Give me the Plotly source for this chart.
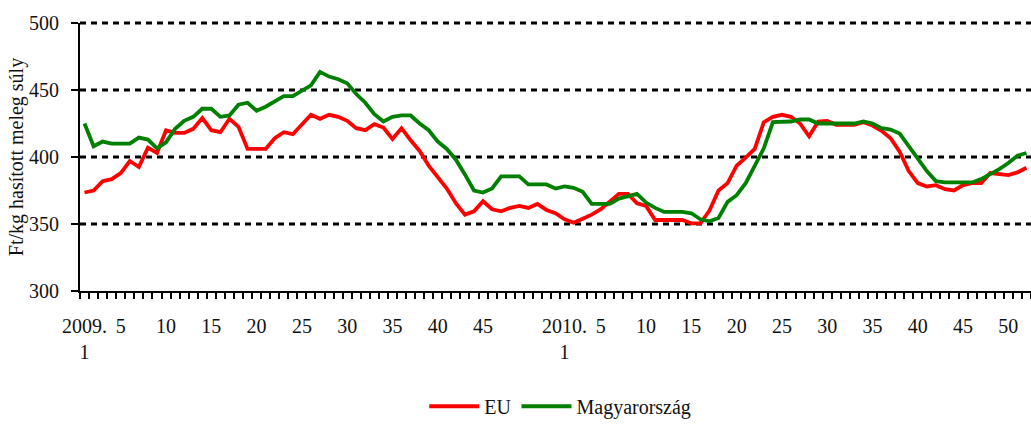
import plotly.graph_objects as go

# Weekly categories: 2009 weeks 1-53, 2010 weeks 1-52
weeks_2009 = list(range(1, 54))
weeks_2010 = list(range(1, 53))
categories = [f"2009.{w}" for w in weeks_2009] + [f"2010.{w}" for w in weeks_2010]

eu = [373.5, 375, 382, 383.5, 388, 397, 392.5, 407, 403, 420,
      418, 418, 421, 429, 420, 418.5, 428.5, 422.5, 406, 406,
      406, 414, 418.5, 417, 424.5, 431.5, 428.5, 431.5, 430, 427,
      421.5, 420, 424.5, 422, 413.5, 421.5, 412.5, 404.5, 393.5, 385,
      376.5, 365.5, 357, 359.5, 367, 361, 359.5, 362, 363.5, 362,
      365, 360.5, 358, 353.5, 351, 354, 357, 361, 367, 372.5,
      372.5, 365.5, 363.5, 353, 353, 353, 353, 350.5, 350.5, 360,
      375, 380.5, 393.5, 399.5, 406, 426, 430, 431.5, 430, 425,
      415.5, 426.5, 427, 424, 424, 424, 426, 423.5, 419.5, 414,
      404, 389.5, 380.5, 378, 379, 376, 375, 379, 380.5, 380.5,
      388, 387, 386.5, 388.5, 392]

hu = [425, 408, 411.5, 410, 410, 410, 414.5, 413, 406.5, 411,
      421, 427, 430, 436, 436, 430, 431, 439, 440.5, 434.5,
      437.5, 441.5, 445.5, 445.5, 449.5, 453.5, 463.5, 460, 458, 455,
      447, 440.5, 432, 426.5, 430, 431, 431, 425, 420, 411.5,
      406, 398, 387, 375, 373.5, 376.5, 385.5, 385.5, 385.5, 379.5,
      379.5, 379.5, 376.5, 378, 377, 374, 365, 365, 365, 369,
      371, 372.5, 366, 362, 359, 359, 359, 358, 353.5, 352,
      354.5, 366.5, 371.5, 380.5, 393, 406.5, 426, 426.5, 426.5, 428,
      428, 425, 425, 425, 425, 425, 426.5, 425, 421.5, 420.5,
      417.5, 408, 398, 389.5, 382, 381, 381, 381, 381, 383.5,
      387, 391, 395.5, 401, 403]

# tick labels every 5th week
label_weeks = [5, 10, 15, 20, 25, 30, 35, 40, 45, 50]
y_min, y_max = 300, 500
y_ticks = [300, 350, 400, 450, 500]
y_grid = [350, 400, 450, 500]

x = list(range(1, len(categories) + 1))
tickvals, ticktext = [], []
for i, c in enumerate(categories, start=1):
    yr, wk = c.split(".")
    wk = int(wk)
    if wk == 1:
        tickvals.append(i)
        ticktext.append(f"{yr}.<br>1")
    elif wk in label_weeks and not (yr == "2009" and wk == 50):
        tickvals.append(i)
        ticktext.append(str(wk))

font = "Liberation Serif"
fig = go.Figure()

# dotted horizontal grid lines (including the top one at 500), unclipped
for g in y_grid:
    yp = (g - y_min) / (y_max - y_min)
    fig.add_shape(type="line", xref="paper", x0=0, x1=1, yref="paper", y0=yp, y1=yp,
                  line=dict(color="black", width=3, dash="6px,5px"), layer="below")

fig.add_trace(go.Scatter(x=x, y=eu, mode="lines", name="EU",
                         line=dict(color="#ff0000", width=3.8)))
fig.add_trace(go.Scatter(x=x, y=hu, mode="lines", name="Magyarország",
                         line=dict(color="#008000", width=3.8)))

fig.update_layout(
    width=1031, height=426,
    margin=dict(l=80, r=0, t=23, b=130),
    paper_bgcolor="white", plot_bgcolor="white",
    font=dict(family=font, size=20, color="#111111"),
    showlegend=True,
    legend=dict(orientation="h", x=0.505, xanchor="center", y=-0.43, yanchor="middle",
                font=dict(family=font, size=20), itemwidth=50),
    xaxis=dict(range=[0.5, len(categories) + 0.5], tickmode="array",
               tickvals=tickvals, ticktext=ticktext, ticks="",
               showline=True, linecolor="black", linewidth=2,
               showgrid=False, zeroline=False, automargin=False,
               tickfont=dict(family=font, size=20),
               ticklabelstandoff=16,
               minor=dict(tickmode="array",
                          tickvals=[v + 0.5 for v in range(0, len(categories) + 1)],
                          ticks="outside", ticklen=6, tickwidth=2, tickcolor="black",
                          showgrid=False)),
    yaxis=dict(range=[y_min, y_max], tickvals=y_ticks,
               ticks="outside", ticklen=7, tickwidth=2, tickcolor="black",
               showline=True, linecolor="black", linewidth=2,
               showgrid=False, zeroline=False, automargin=False,
               tickfont=dict(family=font, size=20),
               ticklabelstandoff=8,
               title=dict(text="Ft/kg hasított meleg súly", standoff=0,
                          font=dict(family=font, size=20))),
)

fig.write_html("out.html", config={"displayModeBar": False},
               post_script="document.body.style.margin='0';document.body.style.overflow='hidden';")
